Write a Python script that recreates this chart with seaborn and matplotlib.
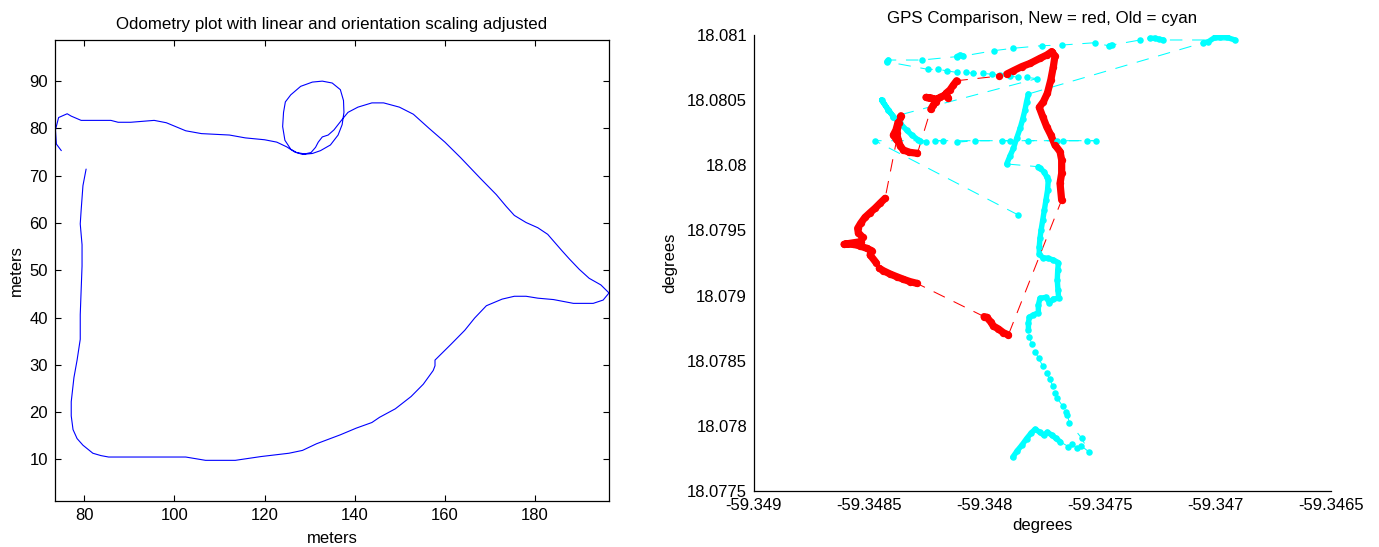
import matplotlib
matplotlib.use("Agg")
import matplotlib.pyplot as plt
import numpy as np
import pandas as pd
import seaborn as sns

sns.set_theme(style="white")
plt.rcParams['font.family'] = ['Liberation Sans', 'DejaVu Sans']
plt.rcParams['lines.scale_dashes'] = False
plt.rcParams['text.color'] = 'black'
plt.rcParams['axes.labelcolor'] = 'black'
plt.rcParams['xtick.color'] = 'black'
plt.rcParams['ytick.color'] = 'black'

# ---------------- Odometry (left) ----------------
odo_x = [74.9, 73.8, 73.6, 74.3, 76.2, 77.1, 79.3, 85.9, 87.5, 90.3, 95.5, 98.2, 102.5, 106.0, 112.2,
         115.7, 120.0, 122.7, 124.9, 126.7, 128.4, 130.6, 132.4, 134.6, 136.3, 137.2, 137.6, 137.5,
         136.8, 135.0, 132.8, 130.6, 128.0, 125.8, 124.6, 124.2, 124.0, 124.5, 125.8, 127.1, 128.9,
         130.3, 131.3, 131.9, 132.8, 134.1, 135.4, 137.2, 138.5, 140.7, 143.8, 146.4, 149.9, 153.0,
         156.5, 160.0, 163.5, 167.9, 171.4, 173.6, 175.4, 178.0, 180.6, 182.8, 185.9, 187.6, 189.8,
         192.0, 194.6, 196.4, 195.1, 192.9, 188.5, 184.1, 180.6, 178.0, 175.4, 172.7, 169.2, 166.6,
         164.4, 161.3, 157.8, 157.8, 157.4, 155.2, 152.5, 149.0, 145.5, 143.8, 140.3, 136.8, 131.5,
         128.4, 125.4, 119.2, 113.5, 106.9, 102.5, 85.4, 83.7, 81.9, 79.7, 78.4, 77.5, 77.1, 77.1,
         77.7, 78.4, 79.1, 79.1, 79.3, 79.5, 79.5, 79.1, 79.3, 79.7, 80.4]
odo_y = [75.3, 76.7, 79.7, 82.3, 83.1, 82.6, 81.7, 81.7, 81.3, 81.3, 81.7, 81.2, 79.5, 78.9, 78.6,
         78.0, 77.6, 77.1, 76.1, 75.0, 74.5, 74.7, 75.3, 76.5, 78.6, 80.8, 83.4, 85.9,
         88.2, 89.6, 90.0, 89.8, 88.9, 87.1, 85.6, 83.4, 80.4, 77.5, 75.6, 74.9, 74.6,
         74.9, 76.0, 77.1, 78.2, 78.6, 79.7, 81.9, 83.4, 84.5, 85.4, 85.4, 84.5, 83.0,
         80.0, 77.1, 73.8, 69.4, 66.0, 63.5, 61.6, 60.1, 59.0, 57.6, 54.2, 52.4, 50.2,
         48.3, 46.9, 45.2, 43.7, 43.0, 43.0, 43.8, 44.1, 44.5, 44.5, 43.9, 42.5, 39.9,
         37.3, 34.3, 31.0, 29.8, 28.8, 25.9, 23.3, 20.7, 18.9, 17.8, 16.6, 15.2, 13.3,
         11.9, 11.3, 10.6, 9.8, 9.8, 10.5, 10.5, 10.8, 11.3, 13.0, 14.4, 16.3, 19.2, 22.2,
         27.3, 31.0, 35.4, 40.6, 45.8, 50.9, 55.4, 59.8, 62.7, 67.9, 71.4]
odo_xticks = [80, 100, 120, 140, 160, 180]
odo_yticks = [10, 20, 30, 40, 50, 60, 70, 80, 90]

# ---------------- GPS (right) ----------------
# run id: consecutive points with the same id form a dense (solid) track,
# consecutive points with different ids are joined only by the dashed line
red_lon = [-59.347710, -59.347696, -59.347703, -59.347714, -59.347729, -59.347746, -59.347764, -59.347749,
           -59.347732, -59.347714, -59.347696, -59.347674, -59.347667, -59.347667, -59.347674, -59.347667,
           -59.347898, -59.347920, -59.347941, -59.347963, -59.347975, -59.347992, -59.348003,
           -59.348295, -59.348324, -59.348353, -59.348382, -59.348411, -59.348440, -59.348457,
           -59.348471, -59.348497, -59.348490, -59.348512, -59.348541, -59.348570, -59.348610, -59.348538,
           -59.348529, -59.348548, -59.348551, -59.348538, -59.348519, -59.348497, -59.348476, -59.348454,
           -59.348432,
           -59.348382, -59.348396, -59.348385, -59.348375, -59.348363, -59.348373, -59.348382, -59.348375,
           -59.348367, -59.348353, -59.348327, -59.348292,
           -59.348234, -59.348223, -59.348211, -59.348230, -59.348255, -59.348208, -59.348194, -59.348172,
           -59.348158, -59.348168, -59.348151, -59.348136, -59.348122,
           -59.347937,
           -59.347905, -59.347876, -59.347840, -59.347804, -59.347761, -59.347732, -59.347710]
red_lat = [18.080874, 18.080841, 18.080759, 18.080657, 18.080554, 18.080490, 18.080446, 18.080375,
           18.080298, 18.080234, 18.080157, 18.080106, 18.080042, 18.079939, 18.079862, 18.079734,
           18.078697, 18.078715, 18.078743, 18.078766, 18.078799, 18.078833, 18.078838,
           18.079094, 18.079107, 18.079125, 18.079145, 18.079166, 18.079191, 18.079209,
           18.079253, 18.079312, 18.079345, 18.079363, 18.079381, 18.079394, 18.079394, 18.079414,
           18.079447, 18.079483, 18.079516, 18.079555, 18.079601, 18.079637, 18.079670, 18.079709,
           18.079747,
           18.080195, 18.080234, 18.080272, 18.080336, 18.080382, 18.080323, 18.080247, 18.080195,
           18.080152, 18.080119, 18.080101, 18.080093,
           18.080431, 18.080464, 18.080490, 18.080516, 18.080523, 18.080508, 18.080523, 18.080541,
           18.080516, 18.080554, 18.080580, 18.080618, 18.080651,
           18.080687,
           18.080702, 18.080728, 18.080759, 18.080784, 18.080823, 18.080848, 18.080874]
red_run = [0] * 16 + [1] * 7 + [2] * 7 + [3] * 17 + [4] * 12 + [5] * 13 + [6] + [7] * 7

cyan_lon = [-59.347879, -59.347859, -59.347839, -59.347819, -59.347798, -59.347782, -59.347761, -59.347744,
            -59.347729, -59.347710, -59.347692, -59.347674,
            -59.347638, -59.347621, -59.347602, -59.347583, -59.347550, -59.347580,
            -59.347634, -59.347642, -59.347650, -59.347663, -59.347686, -59.347696, -59.347706, -59.347718,
            -59.347732, -59.347749, -59.347767, -59.347782, -59.347797, -59.347807, -59.347811, -59.347811,
            -59.347807, -59.347790, -59.347768, -59.347768, -59.347761, -59.347735, -59.347720, -59.347703,
            -59.347680, -59.347683, -59.347686, -59.347684, -59.347681, -59.347703, -59.347725, -59.347749,
            -59.347764, -59.347764, -59.347761, -59.347756, -59.347749, -59.347742, -59.347735, -59.347728,
            -59.347725, -59.347732, -59.347744, -59.347761, -59.347768,
            -59.347905, -59.347891, -59.347876, -59.347862, -59.347847, -59.347836, -59.347826, -59.347819,
            -59.347811,
            -59.347053, -59.347031, -59.347003, -59.346981, -59.346952, -59.346916,
            -59.347226, -59.347244, -59.347262, -59.347284,
            -59.347327,
            -59.347450, -59.347461, -59.347523, -59.347667, -59.347754, -59.347879, -59.347960,
            -59.348093, -59.348107, -59.348122, -59.348274, -59.348418, -59.348425,
            -59.348245, -59.348201, -59.348162, -59.348122, -59.348081, -59.348050, -59.348006, -59.347970,
            -59.347934, -59.347891, -59.347855, -59.347819, -59.347775,
            -59.348396, -59.348418, -59.348447, -59.348418, -59.348396, -59.348367, -59.348339, -59.348317,
            -59.348288, -59.348281,
            -59.348255, -59.348216, -59.348179, -59.348122, -59.348042, -59.347927, -59.347891, -59.347811,
            -59.347688, -59.347660, -59.347558, -59.347518, -59.348476, -59.347855]
cyan_lat = [18.077757, 18.077808, 18.077851, 18.077900, 18.077946, 18.077972, 18.077949, 18.077926,
            18.077949, 18.077928, 18.077903, 18.077877,
            18.077839, 18.077857, 18.077826, 18.077846, 18.077800, 18.077903,
            18.078023, 18.078082, 18.078108, 18.078151, 18.078210, 18.078254, 18.078305, 18.078356,
            18.078402, 18.078459, 18.078518, 18.078569, 18.078628, 18.078684, 18.078735, 18.078792,
            18.078833, 18.078851, 18.078868, 18.078927, 18.078979, 18.078986, 18.078945, 18.078973,
            18.078979, 18.079042, 18.079119, 18.079196, 18.079253, 18.079273, 18.079286, 18.079291,
            18.079319, 18.079376, 18.079440, 18.079504, 18.079580, 18.079657, 18.079734, 18.079811,
            18.079888, 18.079913, 18.079952, 18.079978, 18.079990,
            18.080011, 18.080072, 18.080131, 18.080208, 18.080285, 18.080354, 18.080426, 18.080490,
            18.080549,
            18.080943, 18.080951, 18.080984, 18.080989, 18.080984, 18.080964,
            18.080964, 18.080969, 18.080977, 18.080977,
            18.080964,
            18.080925, 18.080918, 18.080943, 18.080925, 18.080920, 18.080900, 18.080882,
            18.080841, 18.080848, 18.080836, 18.080810, 18.080810, 18.080797,
            18.080738, 18.080738, 18.080726, 18.080715, 18.080715, 18.080708, 18.080708, 18.080700,
            18.080695, 18.080687, 18.080677, 18.080677, 18.080667,
            18.080375, 18.080426, 18.080503, 18.080426, 18.080375, 18.080323, 18.080272, 18.080234,
            18.080195, 18.080190,
            18.080178, 18.080190, 18.080190, 18.080178, 18.080190, 18.080190, 18.080190, 18.080190,
            18.080190, 18.080190, 18.080190, 18.080190, 18.080190, 18.079619]
cyan_run = ([0] * 12 + [1, 2, 3, 4, 5, 6]
            + [7, 8, 9, 10, 11, 12, 13, 14, 15, 16, 17, 18, 19, 20] + [21] * 31
            + [22] * 9 + [23] * 6 + [24] * 4 + [25]
            + [26, 26, 27, 28, 29, 30, 31, 32, 32, 32, 33, 34, 34]
            + [35, 36, 37, 38, 39, 40, 41, 42, 43, 44, 45, 46, 47]
            + [48] * 10
            + [49, 50, 51, 52, 53, 54, 55, 56, 57, 58, 59, 60, 61, 62])

gps_xticks = [-59.349, -59.3485, -59.348, -59.3475, -59.347, -59.3465]
gps_xlabels = ['-59.349', '-59.3485', '-59.348', '-59.3475', '-59.347', '-59.3465']
gps_yticks = [18.0775, 18.078, 18.0785, 18.079, 18.0795, 18.08, 18.0805, 18.081]
gps_ylabels = ['18.0775', '18.078', '18.0785', '18.079', '18.0795', '18.08', '18.0805', '18.081']

# ---------------- figure ----------------
W, H = 1379, 547
fig = plt.figure(figsize=(W / 100, H / 100), dpi=100)
fig.patch.set_facecolor('white')

axL = fig.add_axes([55 / W, 1 - 501 / H, 554 / W, 461 / H])
axR = fig.add_axes([754 / W, 1 - 490.7 / H, 577 / W, 455.4 / H])

# left
odo = pd.DataFrame({'x': odo_x, 'y': odo_y})
sns.lineplot(data=odo, x='x', y='y', sort=False, estimator=None, color=(0, 0, 1), linewidth=0.8, ax=axL)
axL.set_xlim(73.5, 196.4)
axL.set_ylim(1.2, 98.7)
axL.set_xticks(odo_xticks)
axL.set_yticks(odo_yticks)
axL.set_title('Odometry plot with linear and orientation scaling adjusted', fontsize=12.2, pad=8)
axL.set_xlabel('meters', fontsize=12, labelpad=6)
axL.set_ylabel('meters', fontsize=12, labelpad=4)
for s in axL.spines.values():
    s.set_visible(True)
    s.set_color('black')
    s.set_linewidth(0.9)
axL.tick_params(direction='in', length=4, width=0.8, colors='black', labelsize=12,
                top=True, right=True, bottom=True, left=True, pad=5)

# right
def draw_track(ax, lon, lat, run, color, lw_thick, msize):
    df = pd.DataFrame({'lon': lon, 'lat': lat, 'run': run})
    sns.lineplot(data=df, x='lon', y='lat', sort=False, estimator=None, color=color,
                 linewidth=0.75, linestyle=(0, (9, 7)), ax=ax)
    sns.lineplot(data=df, x='lon', y='lat', units='run', sort=False, estimator=None, color=color,
                 linewidth=lw_thick, solid_capstyle='round', solid_joinstyle='round', ax=ax)
    sns.scatterplot(data=df, x='lon', y='lat', color=color, s=msize, linewidth=0, ax=ax, zorder=3)

draw_track(axR, cyan_lon, cyan_lat, cyan_run, (0, 1, 1), 3.9, 22)
draw_track(axR, red_lon, red_lat, red_run, (1, 0, 0), 5.2, 28)

axR.set_xlim(-59.349, -59.3465)
axR.set_ylim(18.0775, 18.081)
axR.set_xticks(gps_xticks, gps_xlabels)
axR.set_yticks(gps_yticks, gps_ylabels)
axR.set_title('GPS Comparison, New = red, Old = cyan', fontsize=12.2, pad=9)
axR.set_xlabel('degrees', fontsize=12, labelpad=4)
axR.set_ylabel('degrees', fontsize=12, labelpad=7)
for k in ['top', 'right']:
    axR.spines[k].set_visible(False)
for k in ['left', 'bottom']:
    axR.spines[k].set_visible(True)
    axR.spines[k].set_color('black')
    axR.spines[k].set_linewidth(0.9)
axR.tick_params(direction='in', length=4, width=0.8, colors='black', labelsize=12, pad=5)
axR.grid(False)
axL.grid(False)

fig.savefig('out.png', dpi=100, facecolor='white')
